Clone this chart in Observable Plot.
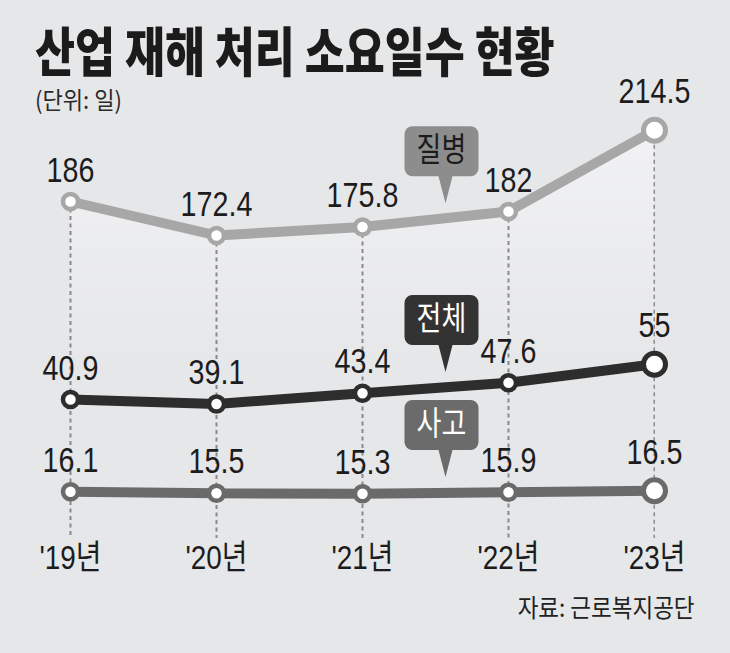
<!DOCTYPE html>
<html><head><meta charset="utf-8">
<script src="https://cdn.jsdelivr.net/npm/d3@7"></script>
<script src="https://cdn.jsdelivr.net/npm/@observablehq/plot@0.6"></script>
<style>
html,body{margin:0;padding:0;background:#e6e7e9;}
#wrap{position:relative;width:730px;height:653px;overflow:hidden;background:#e6e7e9;font-family:"Noto Sans CJK KR",sans-serif;}
#title{position:absolute;left:35px;top:23px;font-size:53px;font-weight:900;line-height:1;color:#1b1b1b;transform:scaleX(0.82);transform-origin:0 0;white-space:nowrap;}
#sub{position:absolute;left:35px;top:87px;font-size:24px;line-height:1;color:#2a2a2a;transform:scaleX(0.92);transform-origin:0 0;white-space:nowrap;}
#chart{position:absolute;left:0;top:60px;}
#src{position:absolute;right:35px;top:594px;font-size:25px;line-height:1;color:#222;transform:scaleX(0.9);transform-origin:100% 0;white-space:nowrap;}
</style></head>
<body><div id="wrap">
<div id="title">산업 재해 처리 소요일수 현황</div>
<div id="sub">(단위: 일)</div>
<div id="chart"></div>
<div id="src">자료: 근로복지공단</div>
</div>
<script>
// ---- data ----
const years = ["'19", "'20", "'21", "'22", "'23"];
const yearLabels = ["'19년", "'20년", "'21년", "'22년", "'23년"];
const disease = [186, 172.4, 175.8, 182, 214.5];   // 질병
const total = [40.9, 39.1, 43.4, 47.6, 55];        // 전체
const accident = [16.1, 15.5, 15.3, 15.9, 16.5];   // 사고
const seriesNames = ["질병", "전체", "사고"];

// ---- style / layout (the source uses a broken axis: each series is shifted) ----
const seriesStyle = {
  "질병": {shift: 0,    line: "#a7a7a7", box: "#8d8d8d", text: "#1c1c1c"},
  "전체": {shift: 65.9, line: "#2d2d2d", box: "#333333", text: "#ffffff"},
  "사고": {shift: 53.8, line: "#6a6a6a", box: "#6b6b6b", text: "#ffffff"}
};
const seriesValues = {"질병": disease, "전체": total, "사고": accident};

const rows = seriesNames.flatMap(s => seriesValues[s].map((v, i) => ({
  series: s, year: years[i], value: v, pos: v + seriesStyle[s].shift, last: i === years.length - 1
})));
const diseaseRows = rows.filter(d => d.series === "질병");
const bubbles = seriesNames.map(s => {
  const r = rows.filter(d => d.series === s);
  return {series: s, year: years[2], pos: (r[2].pos + r[3].pos) / 2};
});

const bubble = {draw(ctx) {
  const r = 8, L = -41, R = 33, T = -77, B = -27;
  ctx.moveTo(0, 0); ctx.lineTo(-7, B); ctx.lineTo(L + r, B);
  ctx.arcTo(L, B, L, B - r, r); ctx.lineTo(L, T + r);
  ctx.arcTo(L, T, L + r, T, r); ctx.lineTo(R - r, T);
  ctx.arcTo(R, T, R, T + r, r); ctx.lineTo(R, B - r);
  ctx.arcTo(R, B, R - r, B, r); ctx.lineTo(7, B); ctx.closePath();
}};

const numFont = '"Liberation Sans","Noto Sans CJK KR",sans-serif';
const condense = 0.82;

const plot = Plot.plot({
  width: 730, height: 525,
  marginLeft: 69, marginRight: 75, marginTop: 20, marginBottom: 47,
  style: {background: "transparent", fontFamily: numFont, color: "#1c1c1c"},
  x: {type: "point", domain: years, padding: 0},
  y: {domain: [0, 200], range: [606, 106], axis: null},
  marks: [
    Plot.areaY(diseaseRows, {x: "year", y: "pos", fill: "url(#dz)", clip: true}),
    Plot.ruleX(diseaseRows, {x: "year", y1: "pos", y2: 0, stroke: "#8a8a8a", strokeWidth: 2, strokeDasharray: "4,3.5", clip: true}),
    ...seriesNames.map(s => Plot.line(rows.filter(d => d.series === s), {
      x: "year", y: "pos", stroke: seriesStyle[s].line, strokeWidth: 10, strokeLinejoin: "miter"})),
    ...seriesNames.map(s => Plot.dot(rows.filter(d => d.series === s && !d.last), {
      x: "year", y: "pos", r: 7.5, fill: "#ffffff", stroke: seriesStyle[s].line, strokeWidth: 4.5})),
    ...seriesNames.map(s => Plot.dot(rows.filter(d => d.series === s && d.last), {
      x: "year", y: "pos", r: 11, fill: "#ffffff", stroke: seriesStyle[s].line, strokeWidth: 5})),
    Plot.text(rows.filter(d => !d.last), {x: "year", y: "pos", text: d => String(d.value),
      lineAnchor: "bottom", dy: -20, fontSize: 35, fill: "#1c1c1c"}),
    Plot.text(rows.filter(d => d.last), {x: "year", y: "pos", text: d => String(d.value),
      lineAnchor: "bottom", dy: -27, fontSize: 35, fill: "#1c1c1c"}),
    ...seriesNames.map(s => Plot.dot(bubbles.filter(d => d.series === s), {
      x: "year", y: "pos", dx: 83, dy: -16, symbol: bubble, r: 10, fill: seriesStyle[s].box, stroke: "none"})),
    ...seriesNames.map(s => Plot.text(bubbles.filter(d => d.series === s), {
      x: "year", y: "pos", dx: 79, dy: -69, text: "series", fontSize: 33,
      fontFamily: '"Noto Sans CJK KR",sans-serif', fill: seriesStyle[s].text})),
    Plot.axisX({tickSize: 0, tickPadding: 6, fontSize: 34, fill: "#1c1c1c", label: null,
      tickFormat: d => yearLabels[years.indexOf(d)]})
  ]
});

// condensed lettering, as in the source (horizontal squeeze around each text's anchor)
plot.querySelectorAll("text").forEach(t => {
  const tr = t.getAttribute("transform") || "";
  const x = t.getAttribute("x");
  const extra = x != null
    ? ` translate(${x},0) scale(${condense},1) translate(${-x},0)`
    : ` scale(${condense},1)`;
  t.setAttribute("transform", tr + extra);
});

const ns = "http://www.w3.org/2000/svg";
const defs = document.createElementNS(ns, "defs");
defs.innerHTML = '<linearGradient id="dz" x1="0" y1="0" x2="0" y2="1"><stop offset="0" stop-color="#ffffff" stop-opacity="0.45"/><stop offset="0.45" stop-color="#ffffff" stop-opacity="0"/></linearGradient>';
plot.prepend(defs);
document.getElementById("chart").appendChild(plot);
</script>
</body></html>
